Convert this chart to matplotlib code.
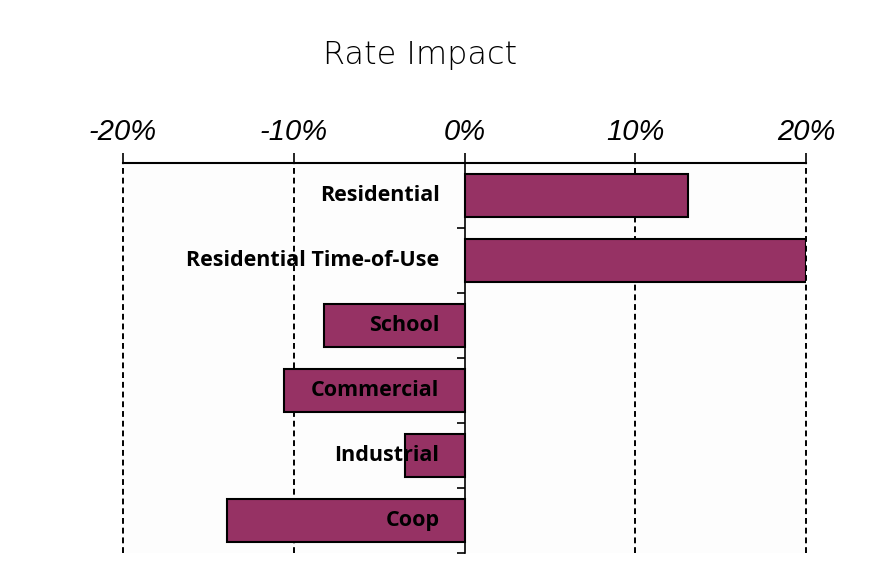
import matplotlib.pyplot as plt
import matplotlib.ticker as mticker
import numpy as np

categories = ['Residential', 'Residential Time-of-Use', 'School',
              'Commercial', 'Industrial', 'Coop']
impact = [13.1, 20.0, -8.2, -10.6, -3.5, -13.9]  # percent
xticks = [-20, -10, 0, 10, 20]

fig = plt.figure(figsize=(8.74, 5.70), dpi=100)
ax = fig.add_axes([123 / 874, 1 - 553 / 570, (806 - 123) / 874, (553 - 163) / 570])
ax.set_facecolor('#fdfdfd')

y = np.arange(len(categories))
ax.barh(y, impact, height=0.66, color='#963264', edgecolor='black', linewidth=1.5, zorder=3)

ax.set_xlim(-20, 20)
ax.set_ylim(len(categories) - 0.5, -0.5)

# value axis along the top
ax.xaxis.tick_top()
ax.set_xticks(xticks)
ax.xaxis.set_major_formatter(mticker.FuncFormatter(lambda v, p: f'{v:.0f}%'))
ax.tick_params(axis='x', direction='out', length=7, width=1.2, pad=5,
               labelsize=21, colors='black')
for lab in ax.get_xticklabels():
    lab.set_fontstyle('italic')
    lab.set_family('Liberation Sans')

# category axis sits on the zero line, ticks between categories
ax.spines['left'].set_position(('data', 0))
ax.spines['left'].set_linewidth(1.2)
ax.spines['left'].set_zorder(4)
ax.spines['top'].set_linewidth(1.5)
ax.spines['right'].set_visible(False)
ax.spines['bottom'].set_visible(False)
ax.set_yticks(np.arange(len(categories) + 1) - 0.5)
ax.set_yticklabels([])
ax.tick_params(axis='y', direction='out', length=6, width=1.2)

for v in xticks:
    if v != 0:
        ax.axvline(v, color='black', linestyle=(0, (3, 2)), linewidth=1.4,
                   zorder=2, clip_on=False)

for i, name in enumerate(categories):
    ax.annotate(name, xy=(0, i), xytext=(-18, 0), textcoords='offset points',
                ha='right', va='center', fontsize=15.5, fontweight='bold',
                family='Open Sans', zorder=5)

fig.text(420 / 874, 1 - 55 / 570, 'Rate Impact', ha='center', va='center',
         fontsize=23, family='DejaVu Sans', fontweight='light', color='black')

fig.savefig('out.png', dpi=100)
